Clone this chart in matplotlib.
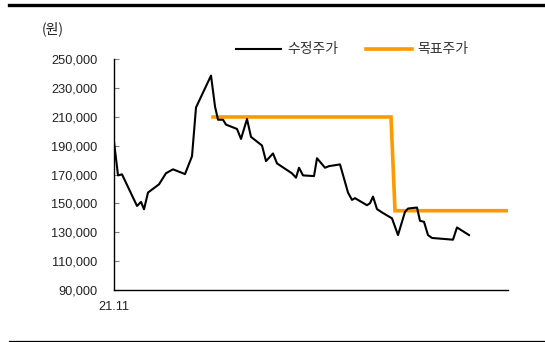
import matplotlib
matplotlib.use('Agg')
import matplotlib.pyplot as plt
from matplotlib.lines import Line2D

plt.rcParams['font.family'] = ['Liberation Sans', 'Noto Sans CJK KR', 'DejaVu Sans']

# days since 21.11 (approx.), adjusted price
days = [0, 4, 8, 23, 27, 30, 34, 45, 52, 59, 71, 78, 82, 97, 101, 104, 109, 112,
        123, 127, 133, 137, 148, 152, 159, 163, 178, 182, 185, 189, 200, 203, 211,
        215, 226, 234, 238, 241, 253, 256, 259, 263, 268, 278, 284, 291, 294, 303,
        306, 310, 314, 318, 339, 343, 355]
price = [192800, 169500, 170200, 148300, 151100, 146000, 157600, 163300, 171000,
         173700, 170400, 182800, 216600, 238700, 217300, 208100, 208100, 204700,
         201700, 194800, 208600, 196200, 190200, 179400, 184700, 177800, 170900,
         167900, 174800, 169500, 169000, 181400, 174800, 175900, 177100, 157600,
         152500, 153700, 148800, 150200, 154800, 146100, 143800, 139700, 128100,
         144200, 146500, 147200, 138000, 137300, 128100, 126100, 124900, 133400,
         128100]

# target price
tp_days = [99, 277, 281, 393]
tp = [210000, 210000, 145000, 145000]

yticks = list(range(90000, 250001, 20000))

fig = plt.figure(figsize=(5.45, 3.42), dpi=100)
ax = fig.add_axes([0.2092, 0.152, 0.7229, 0.6746])

ax.plot(tp_days, tp, color='#FF9900', lw=2.6, solid_joinstyle='miter')
ax.plot(days, price, color='black', lw=1.5)

ax.set_xlim(0, 394)
ax.set_ylim(90000, 250000)
ax.set_yticks(yticks)
ax.set_yticklabels([f'{v:,}' for v in yticks])
ax.set_xticks([0])
ax.set_xticklabels(['21.11'])

for s in ['top', 'right']:
    ax.spines[s].set_visible(False)
ax.spines['left'].set_linewidth(1.0)
ax.spines['bottom'].set_linewidth(1.0)

ax.tick_params(axis='y', direction='in', length=3.5, width=0.8, color='#808080',
               pad=12, labelsize=9.2, labelcolor='#222222')
ax.tick_params(axis='x', length=0, pad=8, labelsize=9.2, labelcolor='#222222')

fig.text(0.0972, 0.915, '(원)', ha='center', va='center', fontsize=10,
         color='#222222', family=['Noto Sans CJK KR', 'DejaVu Sans'])

# legend
ly = 1 - 49 / 342
fig.add_artist(Line2D([236 / 545, 281 / 545], [ly, ly], color='black', lw=1.5))
fig.text(287 / 545, ly, '수정주가', ha='left', va='center', fontsize=10,
         color='#333333', family=['Noto Sans CJK KR'])
fig.add_artist(Line2D([366 / 545, 412 / 545], [ly, ly], color='#FF9900', lw=2.6))
fig.text(417 / 545, ly, '목표주가', ha='left', va='center', fontsize=10,
         color='#333333', family=['Noto Sans CJK KR'])

# frame lines
fig.add_artist(Line2D([9 / 545, 1], [1 - 5 / 342, 1 - 5 / 342], color='black', lw=2.4))
fig.add_artist(Line2D([9 / 545, 1], [1 - 341 / 342, 1 - 341 / 342], color='black', lw=0.9))

fig.savefig('out.png', dpi=100)
